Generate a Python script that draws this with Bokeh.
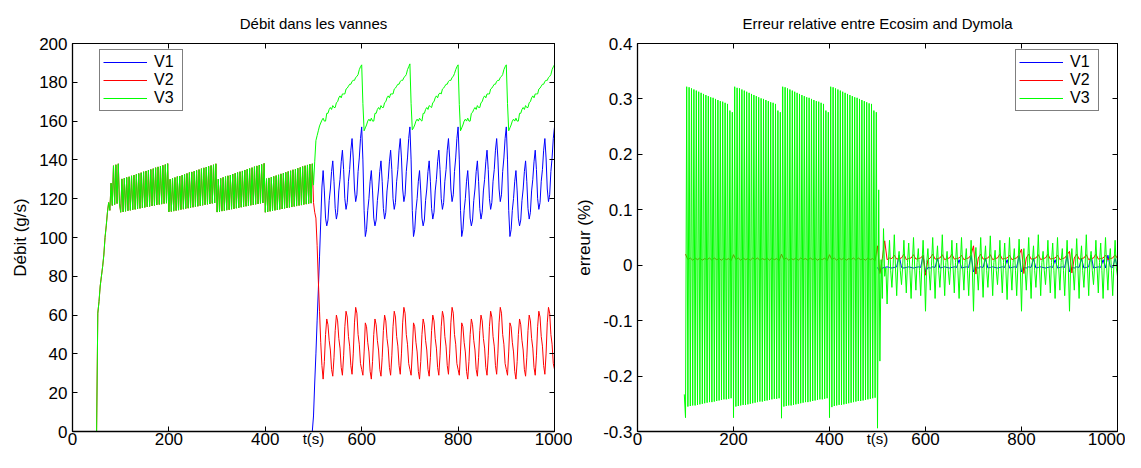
import numpy as np
from bokeh.plotting import figure
from bokeh.layouts import row
from bokeh.models import (LinearAxis, FixedTicker, Range1d, Legend, LegendItem,
                          CustomJSTickFormatter, CustomLabelingPolicy)
from bokeh.embed import file_html
from bokeh.resources import INLINE

FONT = "Liberation Sans"
C1, C2, C3 = "#0000ff", "#ff0000", "#00ff00"
STEP = 2.5  # sampling period of the traces (s)

# ---------------- Left chart: flow through the valves (g/s) ----------------
x_ticks = [0, 200, 400, 600, 800, 1000]
flow_ticks = [0, 20, 40, 60, 80, 100, 120, 140, 160, 180, 200]

# V3 (= V2 while V1 is closed), t = 0 .. 97.5
flow_start = [0, 0, 0, 0, 0, 0, 0, 0, 0, 0, 0, 0, 0, 0, 0, 0, 0, 0, 0, 0,
              0, 61, 67, 75, 80, 85, 91, 100, 106, 113, 118, 114, 128, 116.5,
              137, 117, 137.5, 117.5, 138, 117.5]
# t = 100 .. 197.5
flow_b1 = [113.0, 130.2, 113.2, 130.6, 113.5, 131.0, 113.8, 131.3, 114.0, 131.8,
           114.3, 132.2, 114.5, 132.6, 114.8, 133.0, 115.0, 133.4, 115.3, 133.9,
           115.5, 134.3, 115.8, 134.7, 116.0, 135.1, 116.3, 135.5, 116.5, 136.0,
           116.8, 136.4, 117.0, 136.8, 117.2, 137.2, 117.5, 137.6, 117.7, 138.1]
# t = 200 .. 297.5
flow_b2 = [113.2, 130.0, 113.4, 130.5, 113.6, 130.9, 113.9, 131.4, 114.1, 131.7,
           114.4, 132.1, 114.6, 132.5, 114.9, 133.0, 115.1, 133.5, 115.4, 133.8,
           115.6, 134.2, 115.9, 134.6, 116.1, 135.0, 116.4, 135.5, 116.6, 135.9,
           116.9, 136.3, 117.1, 136.7, 117.3, 137.1, 117.6, 137.5, 117.8, 138.0]
# t = 300 .. 397.5
flow_b3 = [113.1, 130.1, 113.3, 130.5, 113.6, 131.0, 113.8, 131.4, 114.1, 131.8,
           114.3, 132.2, 114.6, 132.7, 114.8, 133.1, 115.1, 133.5, 115.3, 133.9,
           115.6, 134.3, 115.8, 134.8, 116.1, 135.2, 116.3, 135.6, 116.6, 136.0,
           116.8, 136.5, 117.1, 136.9, 117.3, 137.3, 117.6, 137.7, 117.8, 138.2]
# t = 400 .. 497.5
flow_b4 = [113.0, 130.3, 113.2, 130.7, 113.5, 131.1, 113.7, 131.5, 114.0, 131.9,
           114.2, 132.3, 114.5, 132.8, 114.7, 133.2, 115.0, 133.6, 115.2, 134.0,
           115.5, 134.4, 115.7, 134.9, 116.0, 135.3, 116.2, 135.7, 116.5, 136.1,
           116.7, 136.6, 117.0, 137.0, 117.2, 137.4, 117.5, 137.8, 117.7, 138.0]

# after t = 500 (t = 500 .. 1000)
v3_post = [
    127, 139, 150, 152.5, 155, 157.5, 159, 160.5, 161.5, 160, 160, 164, 164, 166, 167, 166, 168, 167, 167, 169.5,
    170, 172, 173, 172, 174, 174, 174, 176.5, 177, 178, 179, 179, 180.5, 181, 181, 182.5, 183, 184, 186.5, 188,
    189, 169, 155, 156.5, 158, 160, 161, 160, 161.5, 160, 160, 164, 164, 166, 167, 166, 168, 167, 167, 169.5,
    170, 172, 173, 172, 174, 174, 174, 176.5, 177, 178, 179, 179, 180.5, 181, 181, 182.5, 183, 184, 186.5, 188,
    189.5, 169, 155.5, 156.5, 158, 160, 161, 160, 161.5, 160.5, 160, 164, 164, 166, 167, 166, 168, 167.5, 167, 169.5,
    170, 172, 173, 172, 174, 174.5, 174, 176.5, 177, 178, 179, 179, 180.5, 181, 181, 182.5, 183, 184.5, 186.5, 188,
    189, 168.5, 155, 156.5, 158, 160, 161, 160, 161.5, 160, 160, 164, 164.5, 166, 167, 166, 168, 167, 167, 169.5,
    170, 172, 173, 172, 174, 174, 174, 176.5, 177, 178, 179, 179, 180.5, 181, 181, 182.5, 183, 184, 186.5, 188,
    189, 169, 155, 156.5, 158, 160, 161, 160, 161.5, 160, 160, 164, 164, 166, 167, 166, 168, 167, 167, 169.5,
    170, 172, 173, 172, 174, 174, 174, 176.5, 177, 178, 179, 179, 180.5, 181, 181, 182.5, 183, 184, 186.5, 188,
    189]
v1_post = [
    8, 25, 40, 57, 73, 90, 108, 126, 134.5, 124, 110, 106, 109, 119, 125, 134, 139.5, 129, 115, 109.5,
    113, 124, 130, 139, 145, 135, 120, 114.5, 118, 129, 135, 145, 151, 141, 125, 118.5, 122, 134, 141, 151,
    157, 140, 114, 100.5, 104, 114, 120, 129, 134.5, 124, 110, 106, 109, 119, 125, 134, 139.5, 129, 115, 109.5,
    113, 124, 130, 139, 145, 135, 120, 114.5, 118, 129, 135, 145, 151, 141, 125, 118.5, 122, 134, 141, 151,
    157, 140, 114, 100.5, 104, 114, 120, 129, 134.5, 124, 110, 106, 109, 119, 125, 134, 139.5, 129, 115, 109.5,
    113, 124, 130, 139, 145, 135, 120, 114.5, 118, 129, 135, 145, 151, 141, 125, 118.5, 122, 134, 141, 151,
    157, 140, 114, 100.5, 104, 114, 120, 129, 134.5, 124, 110, 106, 109, 119, 125, 134, 139.5, 129, 115, 109.5,
    113, 124, 130, 139, 145, 135, 120, 114.5, 118, 129, 135, 145, 151, 141, 125, 118.5, 122, 134, 141, 151,
    157, 140, 114, 100.5, 104, 114, 120, 129, 134.5, 124, 110, 106, 109, 119, 125, 134, 139.5, 129, 115, 109.5,
    113, 124, 130, 139, 145, 135, 120, 114.5, 118, 129, 135, 145, 151, 141, 125, 118.5, 122, 134, 141, 151,
    157]
v2_post = [
    118, 113, 110, 96, 78, 62, 46, 34, 27, 36, 50, 58, 55, 47, 42, 32, 28.5, 38, 52, 60,
    57, 48, 43, 33, 29, 39, 54, 62, 59, 49, 44, 34, 29.5, 40, 56, 64, 61, 50, 45, 35,
    32, 29, 41, 56, 54, 46, 41, 31, 27, 36, 50, 58, 55, 47, 42, 32, 28.5, 38, 52, 60,
    57, 48, 43, 33, 29, 39, 54, 62, 59, 49, 44, 34, 29.5, 40, 56, 64, 61, 50, 45, 35,
    32, 29, 41, 56, 54, 46, 41, 31, 27, 36, 50, 58, 55, 47, 42, 32, 28.5, 38, 52, 60,
    57, 48, 43, 33, 29, 39, 54, 62, 59, 49, 44, 34, 29.5, 40, 56, 64, 61, 50, 45, 35,
    32, 29, 41, 56, 54, 46, 41, 31, 27, 36, 50, 58, 55, 47, 42, 32, 28.5, 38, 52, 60,
    57, 48, 43, 33, 29, 39, 54, 62, 59, 49, 44, 34, 29.5, 40, 56, 64, 61, 50, 45, 35,
    32, 29, 41, 56, 54, 46, 41, 31, 27, 36, 50, 58, 55, 47, 42, 32, 28.5, 38, 52, 60,
    57, 48, 43, 33, 29, 39, 54, 62, 59, 49, 44, 34, 29.5, 40, 56, 64, 61, 50, 45, 35,
    32]
v1_closed_t = [0, 497.5]
v1_closed = [0, 0]

# ---------------- Right chart: relative error (%) ----------------
err_ticks = [-0.3, -0.2, -0.1, 0, 0.1, 0.2, 0.3, 0.4]
# V3 error, t = 97.5 .. 497.5
e3_first = [-0.233]
e3_b1 = [-0.275, 0.322, -0.255, 0.321, -0.254, 0.319, -0.253, 0.317, -0.253, 0.315,
         -0.252, 0.313, -0.251, 0.311, -0.250, 0.309, -0.249, 0.307, -0.248, 0.305,
         -0.247, 0.303, -0.247, 0.302, -0.246, 0.300, -0.245, 0.298, -0.244, 0.296,
         -0.243, 0.295, -0.242, 0.293, -0.242, 0.291, -0.241, 0.279, -0.240, 0.276]
e3_b2 = [-0.275, 0.322, -0.255, 0.320, -0.254, 0.319, -0.253, 0.317, -0.252, 0.315,
         -0.252, 0.313, -0.251, 0.311, -0.250, 0.309, -0.249, 0.307, -0.248, 0.305,
         -0.247, 0.303, -0.246, 0.301, -0.246, 0.300, -0.245, 0.298, -0.244, 0.296,
         -0.243, 0.294, -0.242, 0.293, -0.241, 0.291, -0.241, 0.279, -0.240, 0.276]
e3_b3 = [-0.276, 0.322, -0.255, 0.321, -0.254, 0.319, -0.253, 0.317, -0.253, 0.315,
         -0.252, 0.313, -0.251, 0.311, -0.250, 0.309, -0.249, 0.307, -0.248, 0.305,
         -0.247, 0.303, -0.247, 0.302, -0.246, 0.300, -0.245, 0.298, -0.244, 0.296,
         -0.243, 0.295, -0.242, 0.293, -0.242, 0.291, -0.241, 0.279, -0.240, 0.276]
e3_b4 = [-0.275, 0.322, -0.256, 0.321, -0.254, 0.319, -0.253, 0.317, -0.252, 0.315,
         -0.252, 0.313, -0.251, 0.311, -0.250, 0.309, -0.249, 0.307, -0.248, 0.305,
         -0.247, 0.303, -0.246, 0.302, -0.245, 0.300, -0.245, 0.298, -0.244, 0.296,
         -0.243, 0.294, -0.242, 0.292, -0.241, 0.291, -0.240, 0.279, -0.239, 0.276]
# V3 error, t = 500 .. 1000
e3_post = [
    -0.294, 0.136, -0.173, 0.010, -0.060, 0.066, -0.020, -0.005, -0.070, 0.000,
    0.045, -0.010, -0.040, 0.000, 0.055, -0.005, -0.055, 0.005, 0.025, -0.010,
    -0.035, 0.000, 0.045, -0.005, -0.050, 0.005, 0.040, -0.010, -0.060, 0.000,
    0.050, -0.005, -0.045, 0.005, 0.030, -0.010, -0.055, 0.000, 0.045, -0.005,
    -0.083, 0.005, 0.030, -0.010, -0.045, 0.000, 0.050, -0.005, -0.060, 0.005,
    0.035, -0.010, -0.040, 0.000, 0.055, -0.005, -0.055, 0.005, 0.025, -0.010,
    -0.035, 0.000, 0.045, -0.005, -0.050, 0.005, 0.040, -0.010, -0.060, 0.000,
    0.050, -0.005, -0.045, 0.005, 0.030, -0.010, -0.055, 0.000, 0.045, -0.005,
    -0.083, 0.005, 0.032, -0.010, -0.045, 0.000, 0.050, -0.005, -0.058, 0.005,
    0.035, -0.010, -0.040, 0.000, 0.053, -0.005, -0.055, 0.005, 0.027, -0.010,
    -0.035, 0.000, 0.045, -0.005, -0.050, 0.005, 0.040, -0.010, -0.062, 0.000,
    0.050, -0.005, -0.045, 0.005, 0.030, -0.010, -0.055, 0.000, 0.047, -0.005,
    -0.083, 0.005, 0.030, -0.010, -0.045, 0.000, 0.050, -0.005, -0.060, 0.005,
    0.035, -0.010, -0.040, 0.000, 0.055, -0.005, -0.055, 0.005, 0.025, -0.010,
    -0.035, 0.000, 0.045, -0.005, -0.050, 0.005, 0.040, -0.010, -0.060, 0.000,
    0.050, -0.005, -0.045, 0.005, 0.030, -0.010, -0.055, 0.000, 0.045, -0.005,
    -0.083, 0.005, 0.030, -0.010, -0.045, 0.000, 0.048, -0.005, -0.060, 0.005,
    0.035, -0.010, -0.040, 0.000, 0.055, -0.005, -0.055, 0.005, 0.025, -0.010,
    -0.035, 0.000, 0.045, -0.005, -0.050, 0.005, 0.040, -0.010, -0.060, 0.000,
    0.050, -0.005, -0.045, 0.005, 0.030, -0.010, -0.055, 0.000, 0.045, -0.005,
    -0.020]
# V2 error, every 5 s, t = 100 .. 495
e2_pre = [
    0.020, 0.010, 0.013, 0.009, 0.013, 0.010, 0.013, 0.009, 0.012, 0.010,
    0.013, 0.009, 0.013, 0.010, 0.012, 0.009, 0.013, 0.010, 0.012, 0.008,
    0.019, 0.010, 0.013, 0.009, 0.013, 0.010, 0.012, 0.009, 0.013, 0.010,
    0.013, 0.009, 0.012, 0.010, 0.013, 0.009, 0.013, 0.010, 0.012, 0.008,
    0.020, 0.010, 0.013, 0.009, 0.012, 0.010, 0.013, 0.009, 0.013, 0.010,
    0.012, 0.009, 0.013, 0.010, 0.013, 0.009, 0.012, 0.010, 0.013, 0.008,
    0.019, 0.010, 0.013, 0.009, 0.013, 0.010, 0.013, 0.009, 0.012, 0.010,
    0.013, 0.009, 0.013, 0.010, 0.012, 0.009, 0.013, 0.010, 0.012, 0.008]
# V2 error, every 5 s, t = 500 .. 1000
e2_post = [
    0.035, -0.015, 0.012, 0.044, 0.010, 0.013, 0.012, 0.018, 0.011, 0.012,
    0.013, 0.020, 0.010, 0.012, 0.013, 0.019, 0.011, 0.012, 0.013, 0.018,
    -0.018, 0.010, 0.013, 0.020, 0.011, 0.012, 0.013, 0.019, 0.010, 0.012,
    0.013, 0.020, 0.011, 0.012, 0.013, 0.018, 0.010, 0.012, 0.013, 0.019,
    0.035, -0.016, 0.013, 0.020, 0.011, 0.012, 0.013, 0.019, 0.010, 0.012,
    0.013, 0.020, 0.011, 0.012, 0.013, 0.018, 0.010, 0.012, 0.013, 0.019,
    0.029, -0.015, 0.013, 0.020, 0.011, 0.012, 0.013, 0.019, 0.010, 0.012,
    0.013, 0.020, 0.011, 0.012, 0.013, 0.018, 0.010, 0.012, 0.013, 0.019,
    0.025, -0.014, 0.013, 0.020, 0.011, 0.012, 0.013, 0.019, 0.010, 0.012,
    0.013, 0.020, 0.011, 0.012, 0.013, 0.018, 0.010, 0.012, 0.013, 0.019,
    0.012]
# V1 error, every 5 s, t = 500 .. 1000
e1_post = [
    -0.004, -0.012, -0.005, -0.004, -0.003, -0.004, -0.005, -0.004, -0.003, 0.018,
    -0.004, -0.005, -0.004, -0.003, -0.004, -0.005, -0.004, -0.003, -0.004, 0.018,
    -0.012, -0.004, -0.005, -0.003, -0.004, 0.012, -0.005, -0.004, -0.003, -0.004,
    -0.005, -0.004, -0.003, -0.004, 0.010, -0.005, -0.004, -0.003, -0.004, 0.018,
    -0.012, -0.004, -0.005, -0.003, -0.004, 0.012, -0.005, -0.004, -0.003, -0.004,
    -0.005, -0.004, -0.003, -0.004, 0.010, -0.005, -0.004, -0.003, -0.004, 0.018,
    -0.012, -0.004, -0.005, -0.003, -0.004, 0.012, -0.005, -0.004, -0.003, -0.004,
    -0.005, -0.004, -0.003, -0.004, 0.010, -0.005, -0.004, -0.003, -0.004, 0.018,
    -0.012, -0.004, -0.005, -0.003, -0.004, 0.012, -0.005, -0.004, -0.003, 0.018,
    -0.005, -0.004, -0.003, -0.004, 0.010, -0.005, 0.018, -0.003, -0.004, 0.012,
    -0.004]

# ---------------- time bases ----------------
t_pre = np.arange(0, 500, STEP)            # 0 .. 497.5
t_post = np.arange(500, 1000 + 1e-9, STEP)  # 500 .. 1000
et_pre = np.arange(97.5, 500, STEP)         # 97.5 .. 497.5
et_post = np.arange(500, 1000 + 1e-9, STEP)
et5_pre = np.arange(100, 500, 5.0)
et5_post = np.arange(500, 1000 + 1e-9, 5.0)

flow_pre = flow_start + flow_b1 + flow_b2 + flow_b3 + flow_b4
v3_t = np.concatenate([t_pre, t_post]); v3_y = flow_pre + v3_post
v2_t = v3_t; v2_y = flow_pre + v2_post
v1_t = np.concatenate([v1_closed_t, t_post]); v1_y = v1_closed + v1_post
e3_t = np.concatenate([et_pre, et_post]); e3_y = e3_first + e3_b1 + e3_b2 + e3_b3 + e3_b4 + e3_post
e2_t = np.concatenate([et5_pre, et5_post]); e2_y = e2_pre + e2_post
e1_t = et5_post; e1_y = e1_post

H = 452
TOP = 43
FRAME_W = 482
FRAME_H = 388
BOTTOM = H - TOP - FRAME_H  # 21

hide_labels = CustomLabelingPolicy(code="""
try { for (const i of Array.from(indices)) { indices.unset(i) } } catch (e) {}
return indices
""")


def style(p, title, ylabel, xticks, yticks, fmt=None):
    p.title.text = title
    p.title.align = "center"
    p.title.text_font = FONT
    p.title.text_font_size = "15px"
    p.title.text_font_style = "normal"
    p.title.text_color = "black"
    p.title.standoff = 15
    p.background_fill_color = "white"
    p.border_fill_color = "white"
    p.outline_line_color = "black"
    p.xgrid.visible = False
    p.ygrid.visible = False
    for ax, tk in ((p.xaxis[0], xticks), (p.yaxis[0], yticks)):
        ax.ticker = FixedTicker(ticks=tk)
        ax.major_tick_in = 5
        ax.major_tick_out = 0
        ax.minor_tick_in = 0
        ax.minor_tick_out = 0
        ax.major_label_text_font = FONT
        ax.major_label_text_font_size = "17px"
        ax.major_label_text_color = "black"
        ax.axis_line_color = "black"
        ax.axis_line_width = 1.3
        ax.major_tick_line_color = "black"
        ax.major_label_standoff = 5
        ax.axis_label_text_color = "black"
        ax.axis_label_text_font = FONT
        ax.axis_label_text_font_style = "normal"
    p.xaxis[0].major_label_standoff = 1
    # x-axis title: no room below the tick labels, so it sits in their row,
    # between the 400 and 600 labels
    p.xaxis[0].axis_label = "t(s)"
    p.xaxis[0].axis_label_text_font_size = "15px"
    p.xaxis[0].axis_label_standoff = -18
    if fmt is not None:
        p.yaxis[0].formatter = fmt
    p.yaxis[0].axis_label = ylabel
    p.yaxis[0].axis_label_text_font_size = "17px"
    p.yaxis[0].axis_label_standoff = 6
    for side, tk in (("above", xticks), ("right", yticks)):
        ax = LinearAxis(ticker=FixedTicker(ticks=tk))
        ax.major_tick_in = 5
        ax.major_tick_out = 0
        ax.minor_tick_in = 0
        ax.minor_tick_out = 0
        ax.major_label_text_font_size = "1px"
        ax.major_label_policy = hide_labels
        ax.major_label_standoff = 0
        ax.axis_line_color = "black"
        ax.major_tick_line_color = "black"
        ax.axis_line_width = 1
        p.add_layout(ax, side)


def add_legend(p, renderers, lx, ly):
    items = [LegendItem(label=n, renderers=[r]) for n, r in zip(["V1", "V2", "V3"], renderers)]
    lg = Legend(items=items, location=(lx, ly))
    lg.label_text_font = FONT
    lg.label_text_font_size = "16px"
    lg.label_text_color = "black"
    lg.glyph_width = 44
    lg.glyph_height = 18
    lg.label_height = 18
    lg.label_width = 25
    lg.label_standoff = 7
    lg.spacing = 0
    lg.padding = 3
    lg.margin = 0
    lg.border_line_color = "black"
    lg.border_line_width = 1.5
    lg.background_fill_color = "white"
    lg.background_fill_alpha = 1
    p.add_layout(lg)


# Left figure
p1 = figure(width=572, height=H, x_range=Range1d(0, 1000), y_range=Range1d(0, 200),
            output_backend="svg", toolbar_location=None,
            min_border_left=72, min_border_right=18, min_border_top=TOP,
            min_border_bottom=BOTTOM)
r1 = p1.line(v1_t, v1_y, line_color=C1, line_width=1)
r2 = p1.line(v2_t, v2_y, line_color=C2, line_width=1)
r3 = p1.line(v3_t, v3_y, line_color=C3, line_width=1)
style(p1, "Débit dans les vannes", "Débit (g/s)", x_ticks, flow_ticks)
add_legend(p1, [r1, r2, r3], 27, 320)

# Right figure
fmt = CustomJSTickFormatter(code="""
const s = tick.toFixed(1);
return (s == "0.0" || s == "-0.0") ? "0" : s;
""")
p2 = figure(width=553, height=H, x_range=Range1d(0, 1000), y_range=Range1d(-0.3, 0.4),
            output_backend="svg", toolbar_location=None,
            min_border_left=63, min_border_right=8, min_border_top=TOP,
            min_border_bottom=BOTTOM)
q1 = p2.line(e1_t, e1_y, line_color=C1, line_width=1)
q2 = p2.line(e2_t, e2_y, line_color=C2, line_width=1)
q3 = p2.line(e3_t, e3_y, line_color=C3, line_width=1)
style(p2, "Erreur relative entre Ecosim and Dymola", "erreur (%)", x_ticks, err_ticks, fmt)
add_legend(p2, [q1, q2, q3], 378, 320)

layout = row(p1, p2)
open("out.html", "w").write(file_html(layout, INLINE))
